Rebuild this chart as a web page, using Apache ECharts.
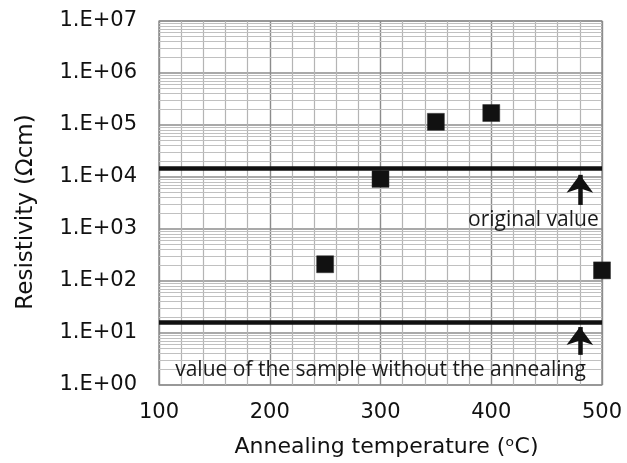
<!DOCTYPE html>
<html><head><meta charset="utf-8">
<script src="https://cdn.jsdelivr.net/npm/echarts@6/dist/echarts.min.js"></script>
<style>html,body{margin:0;padding:0;background:#fff}#c{width:627px;height:463px}</style>
</head><body><div id="c"></div>
<script>
// Data
const temperatures = [250, 300, 350, 400, 500];
const resistivity = [2.1e2, 9.2e3, 1.15e5, 1.7e5, 1.6e2];
const originalValue = 1.5e4;
const unannealedValue = 16;
const yTickLabels = ['1.E+00','1.E+01','1.E+02','1.E+03','1.E+04','1.E+05','1.E+06','1.E+07'];
const xTickLabels = ['100','200','300','400','500'];
const arrowX = 480;
const upperArrow = [2.9e3, 1.1e4];
const lowerArrow = [3.8, 13];
const annotations = [
  {text: 'original value', x: 497, y: 1.5e3, align: 'right'},
  {text: 'value of the sample without the annealing', x: 300, y: 1.95, align: 'center'}
];

// minor log grid positions (2..9 × 10^k)
const minorLines = [];
for (let k = 0; k < 7; k++) for (let m = 2; m <= 9; m++) minorLines.push({yAxis: m * Math.pow(10, k)});

const chart = echarts.init(document.getElementById('c'));
const font = 'DejaVu Sans';
chart.setOption({
  animation: false,
  backgroundColor: '#fff',
  grid: {left: 159, right: 25, top: 21, bottom: 78, show: true, borderColor: '#777', borderWidth: 1.2},
  xAxis: {
    type: 'value', min: 100, max: 500, interval: 100,
    axisLine: {show: false}, axisTick: {show: false},
    axisLabel: {color: '#111', fontSize: 21, fontFamily: font, margin: 17,
      formatter: v => xTickLabels[xTickLabels.indexOf(String(v))] || String(v)},
    splitLine: {show: true, lineStyle: {color: '#8c8c8c', width: 1.4}},
    minorTick: {show: false, splitNumber: 5},
    minorSplitLine: {show: true, lineStyle: {color: '#b4b4b4', width: 1.2}},
    name: 'Annealing temperature (ᵒC)', nameLocation: 'middle', nameGap: 51,
    nameTextStyle: {color: '#111', fontSize: 22, fontFamily: font, padding: [0, 0, 0, 12]}
  },
  yAxis: {
    type: 'log', logBase: 10, min: 1, max: 1e7,
    axisLine: {show: false}, axisTick: {show: false},
    axisLabel: {color: '#111', fontSize: 21, fontFamily: font, margin: 22,
      formatter: v => yTickLabels[Math.round(Math.log10(v))]},
    splitLine: {show: true, lineStyle: {color: '#8c8c8c', width: 1.6}},
    name: 'Resistivity (Ωcm)', nameLocation: 'middle', nameGap: 121,
    nameTextStyle: {color: '#111', fontSize: 23, fontFamily: font, padding: [0, 18, 0, 0]}
  },
  series: [
    {
      type: 'line', data: [], silent: true,
      markLine: {silent: true, symbol: 'none', label: {show: false},
        lineStyle: {color: '#c0c0c0', width: 1, type: 'solid'}, data: minorLines}
    },
    {
      type: 'line', data: [], silent: true, z: 5,
      markLine: {silent: true, symbol: 'none', label: {show: false},
        lineStyle: {color: '#111', width: 4.5, type: 'solid'},
        data: [{yAxis: originalValue}, {yAxis: unannealedValue}]}
    },
    {
      type: 'line', data: [], silent: true, z: 6,
      markLine: {silent: true, symbol: ['none', 'arrow'], symbolSize: [20, 18], label: {show: false},
        lineStyle: {color: '#111', width: 4.5, type: 'solid'},
        data: [
          [{coord: [arrowX, upperArrow[0]]}, {coord: [arrowX, upperArrow[1]]}],
          [{coord: [arrowX, lowerArrow[0]]}, {coord: [arrowX, lowerArrow[1]]}]
        ]}
    },
    {
      type: 'scatter', data: [], silent: true, z: 7,
      markPoint: {symbol: 'circle', symbolSize: 0, silent: true,
        data: annotations.map(a => ({coord: [a.x, a.y], value: a.text,
          label: {show: true, position: 'inside', formatter: a.text, align: a.align,
            verticalAlign: 'middle', color: '#1a1a1a', fontSize: 21, fontFamily: 'Open Sans'}}))}
    },
    {
      type: 'scatter', z: 10,
      symbol: 'rect', symbolSize: 17,
      itemStyle: {color: '#111', opacity: 1, borderColor: '#333', borderWidth: 0.5},
      data: temperatures.map((t, i) => [t, resistivity[i]])
    }
  ]
});
</script></body></html>
